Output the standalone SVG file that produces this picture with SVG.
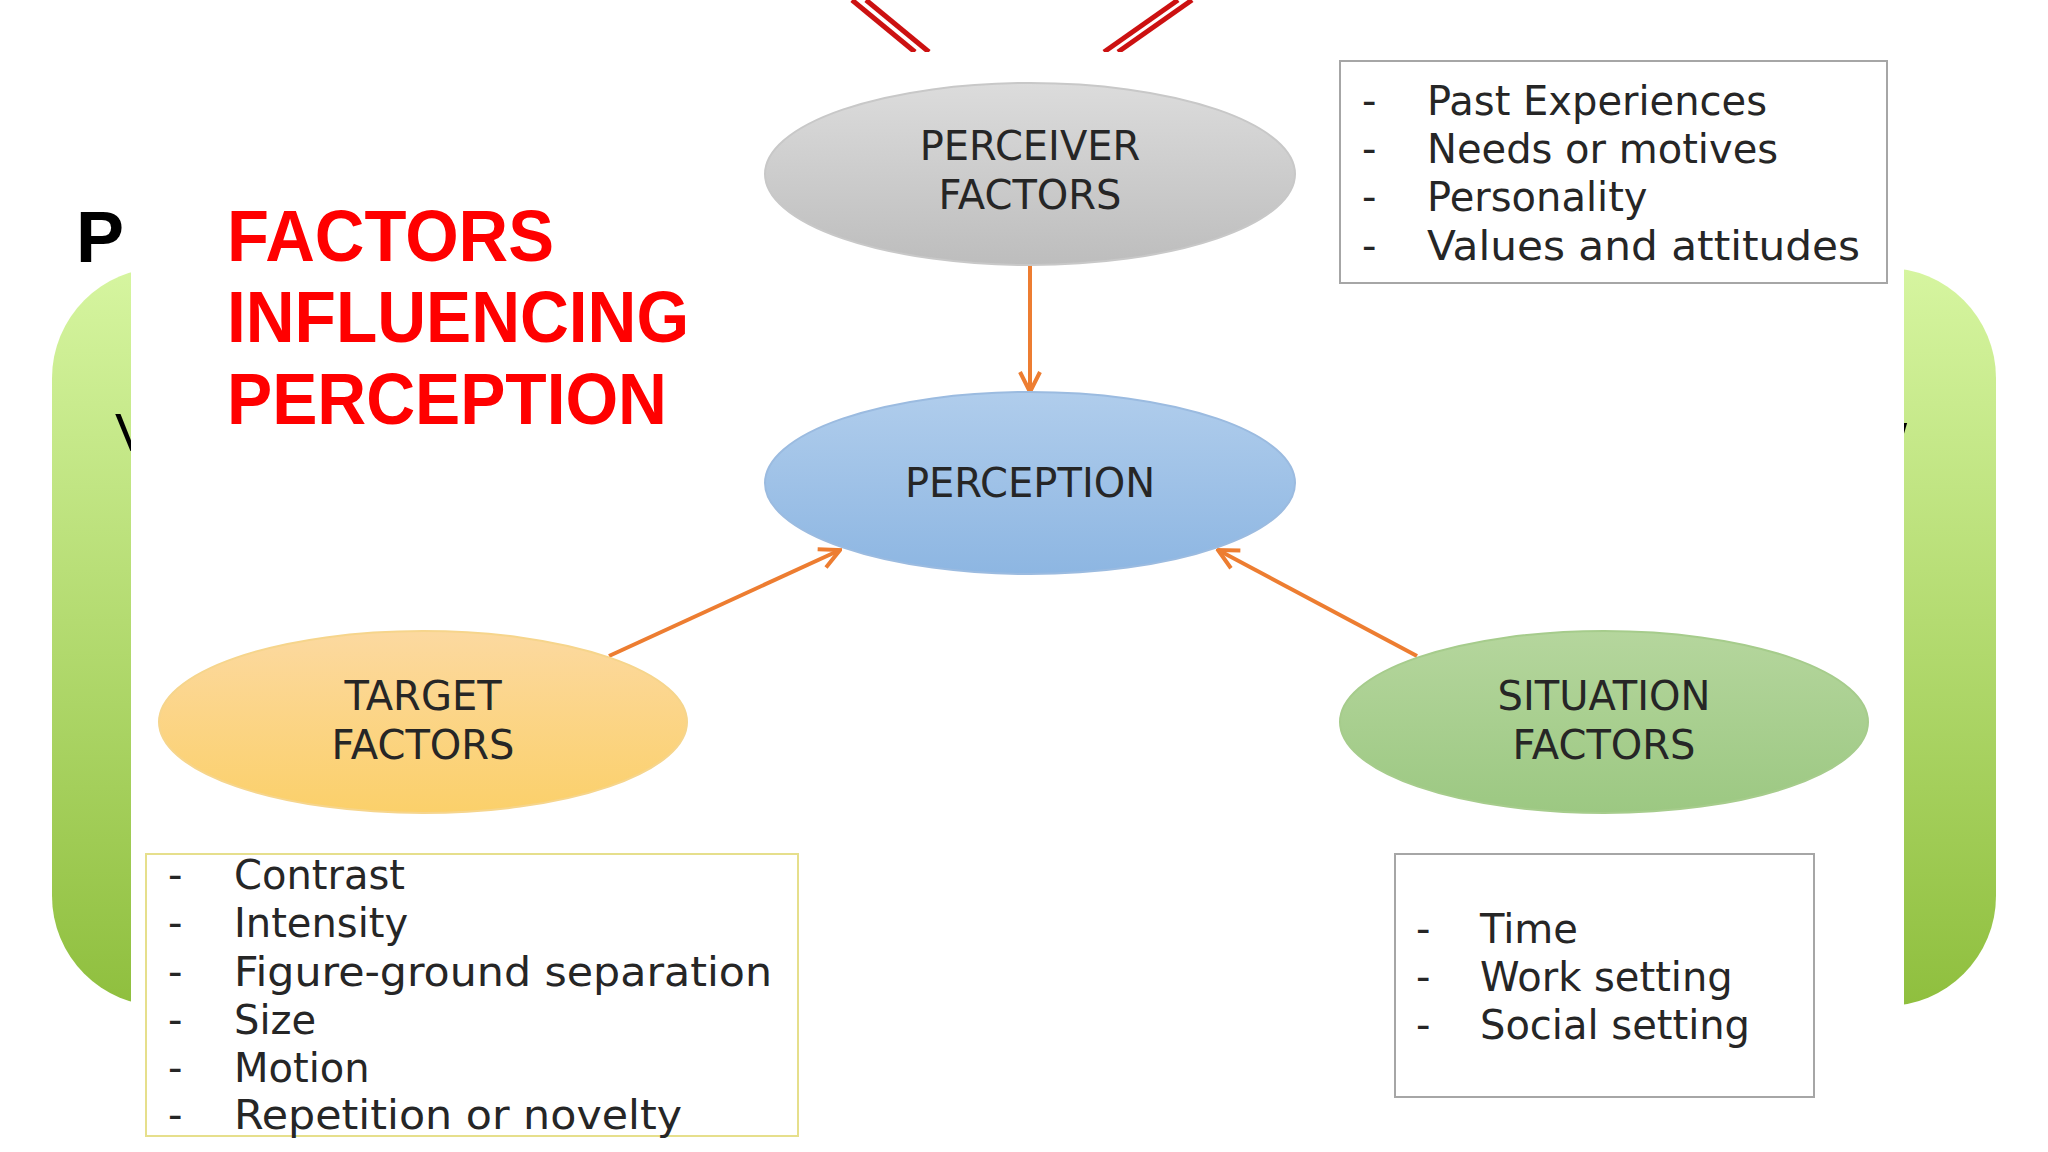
<svg xmlns="http://www.w3.org/2000/svg" width="2048" height="1152" viewBox="0 0 2048 1152">
<defs>
<linearGradient id="gG" x1="0" y1="0" x2="0" y2="1"><stop offset="0" stop-color="#d6f5a0"/><stop offset="1" stop-color="#8fbf3e"/></linearGradient>
<linearGradient id="gGray" x1="0" y1="0" x2="0" y2="1"><stop offset="0" stop-color="#dcdcdc"/><stop offset="1" stop-color="#bdbdbd"/></linearGradient>
<linearGradient id="gBlue" x1="0" y1="0" x2="0" y2="1"><stop offset="0" stop-color="#b0cdec"/><stop offset="1" stop-color="#8db6e2"/></linearGradient>
<linearGradient id="gOr" x1="0" y1="0" x2="0" y2="1"><stop offset="0" stop-color="#fcd9a0"/><stop offset="1" stop-color="#fbd06a"/></linearGradient>
<linearGradient id="gGr" x1="0" y1="0" x2="0" y2="1"><stop offset="0" stop-color="#b5d69d"/><stop offset="1" stop-color="#9cc882"/></linearGradient>
<marker id="ah" viewBox="0 0 12 12" refX="11" refY="6" markerWidth="6" markerHeight="6" orient="auto" markerUnits="strokeWidth"><path d="M1,1 L11,6 L1,11" fill="none" stroke="#ed7d31" stroke-width="2"/></marker>
</defs>
<style>
.nt{font-family:"DejaVu Sans",Verdana,sans-serif;font-size:40px;fill:#262626;text-anchor:middle}
.lt{font-family:"DejaVu Sans",Verdana,sans-serif;font-size:40px;fill:#262626}
.ttl{font-family:"Liberation Sans",Arial,sans-serif;font-weight:bold;font-size:72px;fill:#ff0000}
.blk{font-family:"Liberation Sans",Arial,sans-serif;font-size:54px;fill:#000}
.conn{stroke:#ed7d31;stroke-width:4;fill:none;marker-end:url(#ah)}
.box{fill:#fff;stroke-width:2}
</style>
<rect width="2048" height="1152" fill="#fff"/>
<rect x="52" y="268" width="1944" height="738" rx="110" fill="url(#gG)"/>
<text class="blk" x="115" y="451">V</text>
<text class="blk" x="1868" y="451">w</text>
<text class="blk" x="1870" y="588">e</text>
<text x="76" y="262" font-family="Liberation Sans,Arial,sans-serif" font-weight="bold" font-size="72" fill="#000">P</text>
<g stroke="#cc1111" stroke-width="5">
<line x1="852" y1="0" x2="915" y2="52"/><line x1="866" y1="0" x2="929" y2="52"/>
<line x1="1192" y1="0" x2="1118" y2="52"/><line x1="1178" y1="0" x2="1104" y2="52"/>
</g>
<rect x="131" y="52" width="1773" height="1100" fill="#fff"/>
<g id="title">
<text class="ttl" x="227" y="261" textLength="327" lengthAdjust="spacingAndGlyphs">FACTORS</text>
<text class="ttl" x="227" y="342" textLength="462" lengthAdjust="spacingAndGlyphs">INFLUENCING</text>
<text class="ttl" x="227" y="424" textLength="440" lengthAdjust="spacingAndGlyphs">PERCEPTION</text>
</g>
<g id="connectors">
<line class="conn" x1="1030" y1="265" x2="1030" y2="392"/>
<line class="conn" x1="609" y1="656" x2="840" y2="550"/>
<line class="conn" x1="1417" y1="656" x2="1218" y2="550"/>
</g>
<g id="perceiver">
<ellipse cx="1030" cy="174" rx="265" ry="91" fill="url(#gGray)" stroke="#c8c8c8" stroke-width="2"/>
<text class="nt" x="1030" y="160">PERCEIVER</text><text class="nt" x="1030" y="209">FACTORS</text>
</g>
<g id="perception">
<ellipse cx="1030" cy="483" rx="265" ry="91" fill="url(#gBlue)" stroke="#9bbbe0" stroke-width="2"/>
<text class="nt" x="1030" y="497">PERCEPTION</text>
</g>
<g id="target">
<ellipse cx="423" cy="722" rx="264" ry="91" fill="url(#gOr)" stroke="#f6d58c" stroke-width="2"/>
<text class="nt" x="423" y="710">TARGET</text><text class="nt" x="423" y="759">FACTORS</text>
</g>
<g id="situation">
<ellipse cx="1604" cy="722" rx="264" ry="91" fill="url(#gGr)" stroke="#a6cc8c" stroke-width="2"/>
<text class="nt" x="1604" y="710">SITUATION</text><text class="nt" x="1604" y="759">FACTORS</text>
</g>
<g id="perceiver-list">
<rect class="box" x="1340" y="61" width="547" height="222" stroke="#a6a6a6"/>
<text class="lt" x="1362" y="115">-</text><text class="lt" x="1427" y="115">Past Experiences</text>
<text class="lt" x="1362" y="163">-</text><text class="lt" x="1427" y="163">Needs or motives</text>
<text class="lt" x="1362" y="211">-</text><text class="lt" x="1427" y="211">Personality</text>
<text class="lt" x="1362" y="260">-</text><text class="lt" x="1427" y="260" textLength="433" lengthAdjust="spacingAndGlyphs">Values and attitudes</text>
</g>
<g id="target-list">
<rect class="box" x="146" y="854" width="652" height="282" stroke="#e6df8c"/>
<text class="lt" x="168" y="889">-</text><text class="lt" x="234" y="889">Contrast</text>
<text class="lt" x="168" y="937">-</text><text class="lt" x="234" y="937">Intensity</text>
<text class="lt" x="168" y="986">-</text><text class="lt" x="234" y="986" textLength="538" lengthAdjust="spacingAndGlyphs">Figure-ground separation</text>
<text class="lt" x="168" y="1034">-</text><text class="lt" x="234" y="1034">Size</text>
<text class="lt" x="168" y="1082">-</text><text class="lt" x="234" y="1082">Motion</text>
<text class="lt" x="168" y="1129">-</text><text class="lt" x="234" y="1129" textLength="448" lengthAdjust="spacingAndGlyphs">Repetition or novelty</text>
</g>
<g id="situation-list">
<rect class="box" x="1395" y="854" width="419" height="243" stroke="#a6a6a6"/>
<text class="lt" x="1416" y="943">-</text><text class="lt" x="1480" y="943">Time</text>
<text class="lt" x="1416" y="991">-</text><text class="lt" x="1480" y="991">Work setting</text>
<text class="lt" x="1416" y="1039">-</text><text class="lt" x="1480" y="1039">Social setting</text>
</g>
</svg>
